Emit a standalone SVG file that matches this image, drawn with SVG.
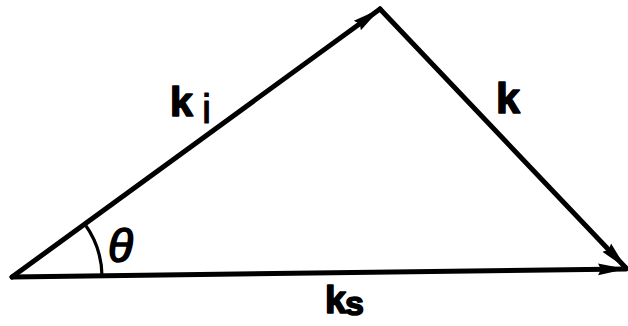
<svg xmlns="http://www.w3.org/2000/svg" width="628" height="326" viewBox="0 0 628 326">
<style>
.vec{stroke:#000;stroke-width:5;fill:none;stroke-linecap:round;stroke-linejoin:round}
.arc{stroke:#000;stroke-width:3.2;fill:none}
.lbl{font-family:"Liberation Sans",Arial,sans-serif;fill:#000;stroke:#000;stroke-linejoin:round}
.b{font-weight:bold;stroke-width:1.6}
.r{stroke-width:1}
.t{stroke-width:1.6}
</style>
<defs>
<marker id="ah" markerUnits="userSpaceOnUse" markerWidth="30" markerHeight="16" refX="28" refY="8" orient="auto">
<polygon points="0,2 28,8 0,14 3,8" fill="#000"/>
</marker>
</defs>
<rect width="628" height="326" fill="#fff"/>
<g id="connectors">
<line id="ki" class="vec" x1="12" y1="277" x2="380" y2="9" marker-end="url(#ah)"/>
<line id="kvec" class="vec" x1="380" y1="9" x2="626" y2="268" marker-end="url(#ah)"/>
<line id="ks" class="vec" x1="12" y1="277" x2="626" y2="269" marker-end="url(#ah)"/>
<path id="theta-arc" class="arc" d="M 84.7 224 A 90 90 0 0 1 102 276"/>
</g>
<g id="label-ki">
<text class="lbl b" x="170" y="116" font-size="41">k</text>
<text class="lbl r" x="202" y="123" font-size="41">i</text>
</g>
<g id="label-k">
<text class="lbl b" x="496" y="113" font-size="43">k</text>
</g>
<g id="label-ks">
<text class="lbl b" x="325" y="313" font-size="38">k</text>
<text class="lbl b" x="345" y="315" font-size="34">s</text>
</g>
<g id="label-theta">
<text class="lbl t" x="108" y="262" font-size="46" font-style="italic">θ</text>
</g>
</svg>
